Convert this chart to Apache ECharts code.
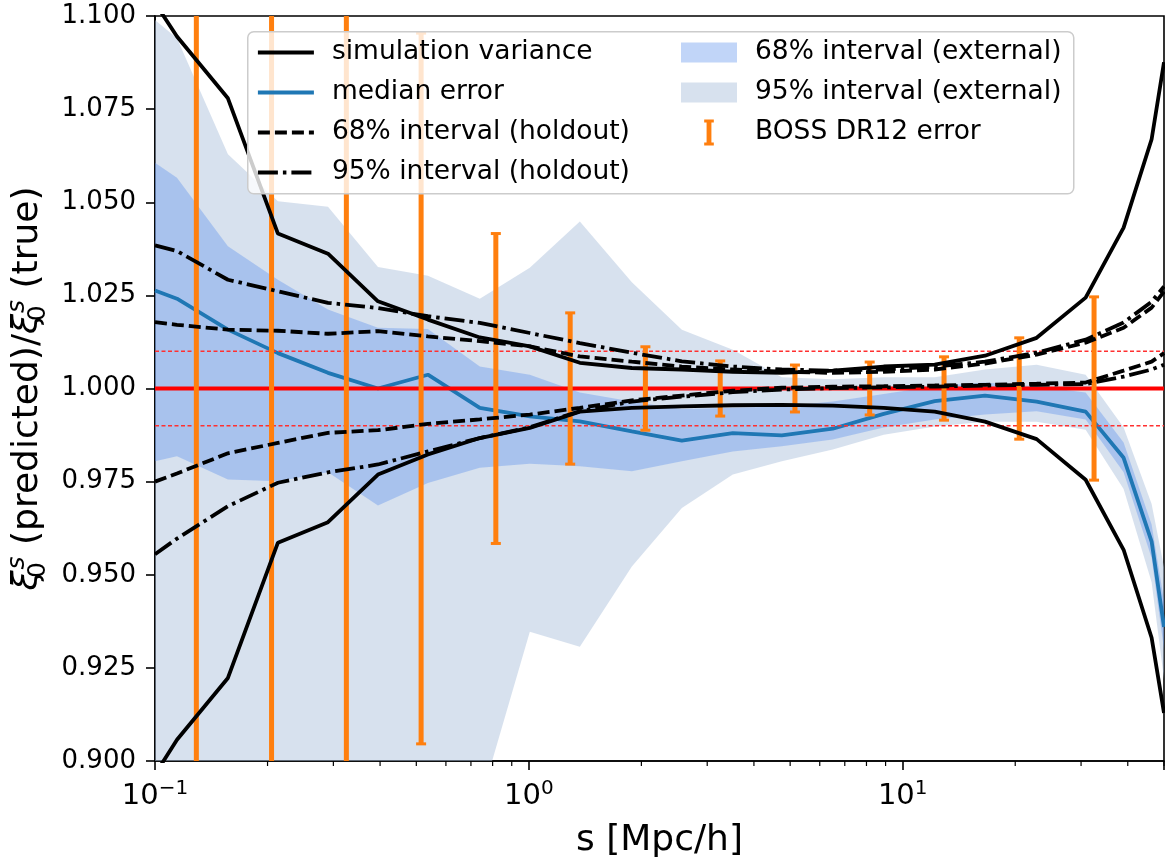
<!DOCTYPE html>
<html>
<head>
<meta charset="utf-8">
<script src="https://cdn.jsdelivr.net/npm/echarts@6/dist/echarts.min.js"></script>
<style>
html, body { margin: 0; padding: 0; background: #fff; }
#chart { width: 1165px; height: 859px; }
</style>
</head>
<body>
<div id="chart"></div>
<script>
// separation bins s [Mpc/h]
const s = [0.1, 0.1145, 0.1567, 0.2132, 0.2902, 0.3948, 0.537, 0.7393, 1.006, 1.369, 1.886, 2.566, 3.512,
  4.749, 6.5, 8.897, 12.18, 16.6, 22.82, 30.86, 38.99, 46.33, 50];

// simulation variance (upper / lower)
const simUpper = [1.1035, 1.0945, 1.0779, 1.0416, 1.0362, 1.0234, 1.0185, 1.0137, 1.0113, 1.0069, 1.0055, 1.0051,
  1.0045, 1.0042, 1.0048, 1.0059, 1.0064, 1.0088, 1.0136, 1.0244, 1.0432, 1.0669, 1.0876];
const simLower = [0.8964, 0.9057, 0.9223, 0.9586, 0.9641, 0.9769, 0.9823, 0.9867, 0.9894, 0.9938, 0.9948, 0.9952,
  0.9955, 0.9956, 0.9954, 0.9948, 0.9938, 0.9911, 0.9864, 0.9755, 0.9567, 0.9331, 0.9129];

// median error
const median = [1.0263, 1.0241, 1.0158, 1.0095, 1.0042, 1.0000, 1.0037, 0.9948, 0.9925, 0.9912, 0.9885, 0.9860,
  0.9880, 0.9874, 0.9892, 0.9932, 0.9966, 0.9981, 0.9965, 0.9938, 0.9814, 0.9589, 0.9360];

// holdout intervals
const hold68Upper = [1.0178, 1.0171, 1.0158, 1.0155, 1.0147, 1.0154, 1.0140, 1.0127, 1.0113, 1.0086, 1.0072, 1.0059,
  1.0051, 1.0045, 1.0042, 1.0045, 1.0051, 1.0067, 1.0091, 1.0123, 1.0163, 1.0217, 1.0260];
const hold68Lower = [0.9750, 0.9772, 0.9826, 0.9854, 0.9881, 0.9888, 0.9905, 0.9917, 0.9930, 0.9948, 0.9968, 0.9981,
  0.9994, 1.0002, 1.0005, 1.0006, 1.0008, 1.0010, 1.0013, 1.0016, 1.0048, 1.0072, 1.0095];
const hold95Upper = [1.0384, 1.0369, 1.0292, 1.0261, 1.0230, 1.0216, 1.0194, 1.0176, 1.0149, 1.0122, 1.0096, 1.0073,
  1.0059, 1.0051, 1.0048, 1.0051, 1.0059, 1.0072, 1.0096, 1.0131, 1.0177, 1.0233, 1.0274];
const hold95Lower = [0.9555, 0.9597, 0.9684, 0.9747, 0.9775, 0.9796, 0.9831, 0.9867, 0.9896, 0.9939, 0.9965, 0.9978,
  0.9990, 0.9997, 1.0001, 1.0003, 1.0005, 1.0008, 1.0010, 1.0012, 1.0032, 1.0051, 1.0064];

// external intervals (bands)
const ext68Upper = [1.0606, 1.0566, 1.0382, 1.0292, 1.0212, 1.0163, 1.0160, 1.0059, 1.0037, 0.9989, 0.9965, 0.9945,
  0.9948, 0.9952, 0.9965, 0.9985, 1.0006, 1.0016, 1.0006, 0.9989, 0.9855, 0.9635, 0.9430];
const ext68Lower = [0.9805, 0.9818, 0.9756, 0.9751, 0.9775, 0.9686, 0.9746, 0.9787, 0.9798, 0.9791, 0.9778, 0.9805,
  0.9831, 0.9845, 0.9863, 0.9895, 0.9917, 0.9930, 0.9939, 0.9917, 0.9775, 0.9545, 0.9300];
const ext95Upper = [1.0989, 1.0940, 1.0629, 1.0503, 1.0488, 1.0326, 1.0303, 1.0241, 1.0324, 1.0448, 1.0285, 1.0158,
  1.0104, 1.0030, 1.0025, 1.0030, 1.0030, 1.0051, 1.0064, 1.0037, 0.9895, 0.9690, 0.9520];
const ext95Lower = [0.86, 0.86, 0.86, 0.86, 0.86, 0.86, 0.87, 0.8887, 0.9347, 0.9307, 0.9522, 0.9679,
  0.9769, 0.9805, 0.9836, 0.9876, 0.9898, 0.9911, 0.9911, 0.9889, 0.9730, 0.9480, 0.9220];

// BOSS DR12 error bars
const bossS = [0.129, 0.205, 0.325, 0.515, 0.816, 1.29, 2.05, 3.25, 5.15, 8.16, 12.9, 20.5, 32.5];
const bossMean = [1, 1, 1, 1, 1, 1, 1, 1, 1, 1, 1, 1, 1];
const bossErr = [0.35, 0.2, 0.14, 0.0954, 0.0416, 0.0203, 0.0112, 0.0074, 0.0063, 0.0071, 0.0085, 0.0136, 0.0246];

// reference levels
const refLevel = 1.0;
const tolerance = [0.99, 1.01];

// axis ticks
const yMin = 0.9, yMax = 1.1, yStep = 0.025;
const xMin = 0.1, xMax = 50;
const minorTicks = [0.2, 0.3, 0.4, 0.5, 0.6, 0.7, 0.8, 0.9, 2, 3, 4, 5, 6, 7, 8, 9, 20, 30, 40, 50];

const FONT = "'DejaVu Sans', sans-serif";
const orange = '#ff7f0e';
const blue = '#1f77b4';
const band68 = 'rgba(100,149,237,0.4)';
const band95 = 'rgba(176,196,222,0.5)';

const pairs = (ys) => s.map((x, i) => [x, ys[i]]);

function bandSeries(name, lower, upper, color) {
  return {
    name: name,
    type: 'custom',
    z: 1,
    silent: true,
    itemStyle: {color: color},
    data: [[1, 1]],
    renderItem: function (params, api) {
      const pts = [];
      for (let i = 0; i < s.length; i++) pts.push(api.coord([s[i], upper[i]]));
      for (let i = s.length - 1; i >= 0; i--) pts.push(api.coord([s[i], lower[i]]));
      const cs = params.coordSys;
      return {
        type: 'polygon',
        shape: {points: pts},
        style: {fill: color},
        clipPath: {type: 'rect', shape: {x: cs.x, y: cs.y, width: cs.width, height: cs.height}}
      };
    }
  };
}

function lineSeries(name, ys, color, dash, z) {
  return {
    name: name,
    type: 'line',
    data: pairs(ys),
    symbol: 'none',
    z: z,
    silent: true,
    lineStyle: {color: color, width: 3.8, type: dash},
    itemStyle: {color: color}
  };
}

// horizontal reference line across the whole x range
function hLine(name, level, width, dash, color) {
  return {
    name: name, type: 'line', z: 3, silent: true, symbol: 'none',
    data: [[xMin, level], [xMax, level]],
    lineStyle: {color: color, width: width, type: dash, opacity: 1},
    itemStyle: {color: color}
  };
}

const dashed = [12, 5];
const dashDot = [20, 5, 3.5, 5];

const chart = echarts.init(document.getElementById('chart'));

chart.setOption({
  animation: false,
  textStyle: {fontFamily: FONT},
  grid: {
    left: 155, right: 1, top: 16, bottom: 98, show: true, outerBoundsMode: 'none',
    borderColor: '#000', borderWidth: 1.6, backgroundColor: 'transparent'
  },
  graphic: [{
    type: 'rect',
    left: 247, top: 31, z: 10,
    shape: {width: 826, height: 162, r: 6},
    style: {fill: 'rgba(255,255,255,0.8)', stroke: '#cccccc', lineWidth: 1.5}
  }],
  legend: [{
    left: 256, top: 39, orient: 'vertical', padding: 0, z: 20,
    itemWidth: 56, itemHeight: 26, itemGap: 13, selectedMode: false,
    itemStyle: {opacity: 0},
    lineStyle: {width: 3.8},
    textStyle: {fontSize: 26.5, fontFamily: FONT, color: '#000', lineHeight: 26, padding: [0, 0, 0, 13]},
    data: ['simulation variance', 'median error', '68% interval (holdout)', '95% interval (holdout)']
  }, {
    left: 681, top: 39, orient: 'vertical', padding: 0, z: 20,
    itemWidth: 56, itemHeight: 26, itemGap: 13, selectedMode: false,
    textStyle: {fontSize: 26.5, fontFamily: FONT, color: '#000', lineHeight: 26, padding: [0, 0, 0, 13]},
    data: [
      {name: '68% interval (external)', icon: 'path://M0,0H56V20H0Z'},
      {name: '95% interval (external)', icon: 'path://M0,0H56V20H0Z'},
      {name: 'BOSS DR12 error', icon: 'path://M0,0H10V3H7.5V24H10V27H0V24H2.5V3H0Z'}
    ]
  }],
  xAxis: {
    type: 'log', logBase: 10, min: xMin, max: xMax,
    name: 's [Mpc/h]', nameLocation: 'middle', nameGap: 62,
    nameTextStyle: {fontSize: 36, color: '#000', fontFamily: FONT},
    axisLine: {lineStyle: {color: '#000', width: 1.6}},
    axisTick: {length: 9, lineStyle: {color: '#000', width: 1.6}},
    splitLine: {show: false},
    axisLabel: {
      margin: 18, color: '#000',
      formatter: function (v) {
        const e = Math.log10(v);
        if (Math.abs(e - Math.round(e)) > 1e-6) return '';
        const r = Math.round(e);
        return '{a|10}{e|' + (r < 0 ? '\u2212' : '') + Math.abs(r) + '}';
      },
      rich: {
        a: {fontSize: 29, fontFamily: FONT, color: '#000', lineHeight: 34},
        e: {fontSize: 20, fontFamily: FONT, color: '#000', lineHeight: 20, verticalAlign: 'top'}
      }
    }
  },
  yAxis: {
    type: 'value', min: yMin, max: yMax, interval: yStep,
    name: '{x|\u03be}{b|0}{p|s}{t| (predicted)/}{x|\u03be}{b|0}{p|s}{t| (true)}',
    nameLocation: 'middle', nameGap: 100, nameRotate: 90,
    nameTextStyle: {
      fontSize: 36, color: '#000', fontFamily: FONT,
      rich: {
        t: {fontSize: 36, fontFamily: FONT, color: '#000', lineHeight: 46},
        x: {fontSize: 36, fontFamily: FONT, color: '#000', fontStyle: 'italic', lineHeight: 46},
        b: {fontSize: 25, fontFamily: FONT, color: '#000', lineHeight: 24, verticalAlign: 'bottom', width: 1},
        p: {fontSize: 25, fontFamily: FONT, color: '#000', fontStyle: 'italic', lineHeight: 24, verticalAlign: 'top'}
      }
    },
    axisLine: {lineStyle: {color: '#000', width: 1.6}},
    axisTick: {length: 9, lineStyle: {color: '#000', width: 1.6}},
    splitLine: {show: false},
    axisLabel: {
      margin: 19, color: '#000', fontSize: 26, fontFamily: FONT,
      formatter: (v) => v.toFixed(3)
    }
  },
  series: [
    bandSeries('95% interval (external)', ext95Lower, ext95Upper, band95),
    bandSeries('68% interval (external)', ext68Lower, ext68Upper, band68),
    lineSeries('median error', median, blue, 'solid', 2),
    hLine('ref', refLevel, 4, 'solid', '#ff0000'),
    hLine('tolLow', tolerance[0], 1.6, [4, 2.5], '#ff3030'),
    hLine('tolHigh', tolerance[1], 1.6, [4, 2.5], '#ff3030'),
    {
      name: 'BOSS DR12 error', type: 'custom', z: 4, silent: true,
      itemStyle: {color: orange},
      data: bossS.map((x, i) => [x, bossMean[i] - bossErr[i], bossMean[i] + bossErr[i]]),
      encode: {x: 0, y: [1, 2]},
      renderItem: function (params, api) {
        const x = api.value(0), lo = api.value(1), hi = api.value(2);
        const top = api.coord([x, Math.min(hi, yMax)]);
        const bot = api.coord([x, Math.max(lo, yMin)]);
        const children = [{type: 'line', shape: {x1: top[0], y1: top[1], x2: bot[0], y2: bot[1]}, style: {stroke: orange, lineWidth: 5}}];
        const cap = (p) => ({type: 'line', shape: {x1: p[0] - 5, y1: p[1], x2: p[0] + 5, y2: p[1]}, style: {stroke: orange, lineWidth: 3}});
        if (hi <= yMax) children.push(cap(top));
        if (lo >= yMin) children.push(cap(bot));
        return {type: 'group', children: children};
      }
    },
    lineSeries('simulation variance', simUpper, '#000', 'solid', 5),
    lineSeries('simulation variance', simLower, '#000', 'solid', 5),
    lineSeries('68% interval (holdout)', hold68Upper, '#000', dashed, 5),
    lineSeries('68% interval (holdout)', hold68Lower, '#000', dashed, 5),
    lineSeries('95% interval (holdout)', hold95Upper, '#000', dashDot, 5),
    lineSeries('95% interval (holdout)', hold95Lower, '#000', dashDot, 5),
    {
      name: 'minor', type: 'custom', z: 6, silent: true,
      data: minorTicks.map((v) => [v, yMin]),
      renderItem: function (params, api) {
        const p = api.coord([api.value(0), api.value(1)]);
        return {type: 'line', shape: {x1: p[0], y1: p[1], x2: p[0], y2: p[1] + 5}, style: {stroke: '#000', lineWidth: 1.2}};
      }
    }
  ]
});
</script>
</body>
</html>
